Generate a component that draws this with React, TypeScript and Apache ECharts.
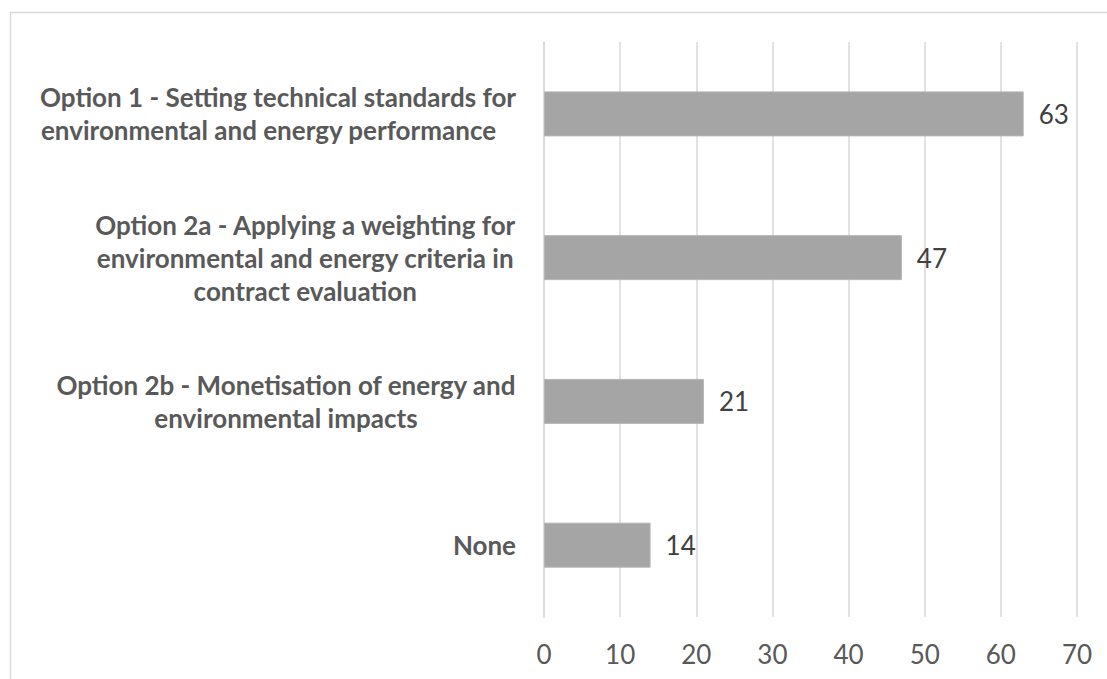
import React, { useEffect, useRef } from "react";
import * as echarts from "echarts";

const categories: string[] = [
  "Option 1 - Setting technical standards for\nenvironmental and energy performance   ",
  "Option 2a - Applying a weighting for\nenvironmental and energy criteria in\ncontract evaluation",
  "Option 2b - Monetisation of energy and\nenvironmental impacts",
  "None",
];
const values: number[] = [63, 47, 21, 14];
const xTicks: number[] = [0, 10, 20, 30, 40, 50, 60, 70];

const FONT = "Lato, 'Open Sans', sans-serif";

export default function App() {
  const ref = useRef<HTMLDivElement>(null);
  useEffect(() => {
    if (!ref.current) return;
    const chart = echarts.init(ref.current, undefined, { renderer: "svg" });
    chart.setOption({
      animation: false,
      backgroundColor: "#ffffff",
      textStyle: { fontFamily: FONT },
      graphic: [
        {
          type: "rect",
          z: -1,
          silent: true,
          shape: { x: 10.5, y: 12.5, width: 1200, height: 800 },
          style: { fill: "none", stroke: "#d9d9d9", lineWidth: 1.5 },
        },
      ],
      grid: { left: 544, right: 30, top: 42, bottom: 62, containLabel: false },
      xAxis: {
        type: "value",
        min: xTicks[0],
        max: xTicks[xTicks.length - 1],
        interval: 10,
        axisLine: { show: false },
        axisTick: { show: false },
        splitLine: { show: true, lineStyle: { color: "#d9d9d9", width: 1.5 } },
        axisLabel: {
          color: "#595959",
          fontSize: 26,
          fontFamily: FONT,
          margin: 24,
        },
      },
      yAxis: {
        type: "category",
        inverse: true,
        data: categories,
        axisLine: { show: true, lineStyle: { color: "#d9d9d9", width: 1.5 } },
        axisTick: { show: false },
        axisLabel: {
          margin: 28,
          align: "right",
          formatter: (v: string) =>
            v
              .split("\n")
              .map((l) => `{c|${l}}`)
              .join("\n"),
          rich: {
            c: {
              align: "center",
              color: "#595959",
              fontWeight: "bold",
              fontSize: 26,
              lineHeight: 33,
              fontFamily: FONT,
            },
          },
        },
      },
      series: [
        {
          type: "bar",
          data: values,
          barWidth: 45,
          itemStyle: { color: "#a5a5a5", borderColor: "#b5b5b5", borderWidth: 1 },
          label: {
            show: true,
            position: "right",
            distance: 15,
            color: "#404040",
            fontSize: 26,
            fontFamily: FONT,
          },
        },
      ],
    });
    return () => chart.dispose();
  }, []);
  return (
    <div
      ref={ref}
      style={{ position: "absolute", left: 0, top: 0, width: 1107, height: 679 }}
    />
  );
}
